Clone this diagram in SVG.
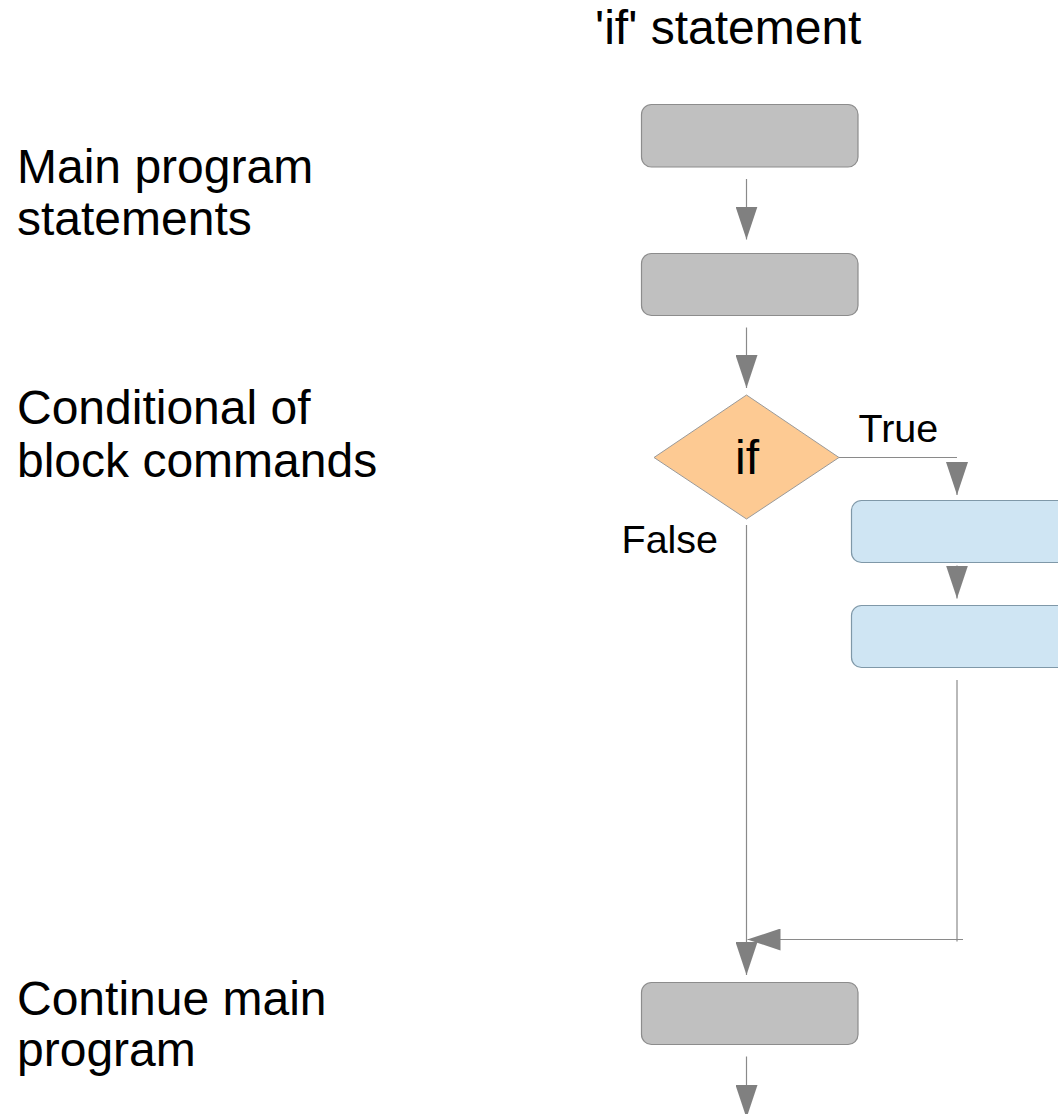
<svg xmlns="http://www.w3.org/2000/svg" width="1058" height="1114" viewBox="0 0 1058 1114">
  <style>
    .lbl { font-family: "Liberation Sans", Arial, sans-serif; font-size: 48px; fill: #000; }
    .small { font-family: "Liberation Sans", Arial, sans-serif; font-size: 39.5px; fill: #000; }
    .main { fill: #c0c0c0; stroke: #8c8c8c; stroke-width: 1.2; }
    .block { fill: #cfe5f3; stroke: #7f98a8; stroke-width: 1.2; }
    .cond { fill: #fdca93; stroke: #9a9a9a; stroke-width: 1; }
    .conn { fill: none; stroke: #8a8a8a; stroke-width: 1.2; }
  </style>
  <defs>
    <marker id="arrow" viewBox="0 0 33 22" refX="33" refY="11" markerWidth="33" markerHeight="22" markerUnits="userSpaceOnUse" orient="auto">
      <polygon points="0,0 33,11 0,22" fill="#808080"/>
    </marker>
  </defs>
  <rect width="1058" height="1114" fill="#ffffff"/>

  <!-- side captions -->
  <g id="captions">
    <text class="lbl" x="595" y="43.5">'if' statement</text>
    <text class="lbl" x="17" y="182.5">Main program</text>
    <text class="lbl" x="17" y="234.5">statements</text>
    <text class="lbl" x="17" y="423.5">Conditional of</text>
    <text class="lbl" x="17" y="476.5">block commands</text>
    <text class="lbl" x="17" y="1014.5">Continue main</text>
    <text class="lbl" x="17" y="1066">program</text>
  </g>

  <!-- connectors -->
  <g id="connectors">
    <path class="conn" d="M746.5,179 V239.5" marker-end="url(#arrow)"/>
    <path class="conn" d="M746.5,327.5 V388" marker-end="url(#arrow)"/>
    <path class="conn" d="M839,457.5 H957"/>
    <path class="conn" d="M957,462 V495" marker-end="url(#arrow)"/>
    <path class="conn" d="M957,565.5 V598.5" marker-end="url(#arrow)"/>
    <path class="conn" d="M957,680 V941.5"/>
    <path class="conn" d="M963,939.5 H747.5" marker-end="url(#arrow)"/>
    <path class="conn" d="M746.5,525 V975" marker-end="url(#arrow)"/>
    <path class="conn" d="M746.5,1056.5 V1118" marker-end="url(#arrow)"/>
    <text class="small" x="858.5" y="441.5">True</text>
    <text class="small" x="621.5" y="552.5">False</text>
  </g>

  <g id="stmt1">
    <rect class="main" x="641.5" y="104.5" width="216.5" height="62.5" rx="10"/>
  </g>
  <g id="stmt2">
    <rect class="main" x="641.5" y="253.5" width="216.5" height="62" rx="10"/>
  </g>
  <g id="if-cond">
    <polygon class="cond" points="746.5,395 839,457.5 746.5,519 654,457.5"/>
    <text class="lbl" x="747" y="474" text-anchor="middle">if</text>
  </g>
  <g id="block1">
    <rect class="block" x="851.5" y="500.5" width="216.5" height="62" rx="10"/>
  </g>
  <g id="block2">
    <rect class="block" x="851.5" y="605.5" width="216.5" height="62" rx="10"/>
  </g>
  <g id="stmt3">
    <rect class="main" x="641.5" y="982.5" width="216.5" height="62" rx="10"/>
  </g>
</svg>
